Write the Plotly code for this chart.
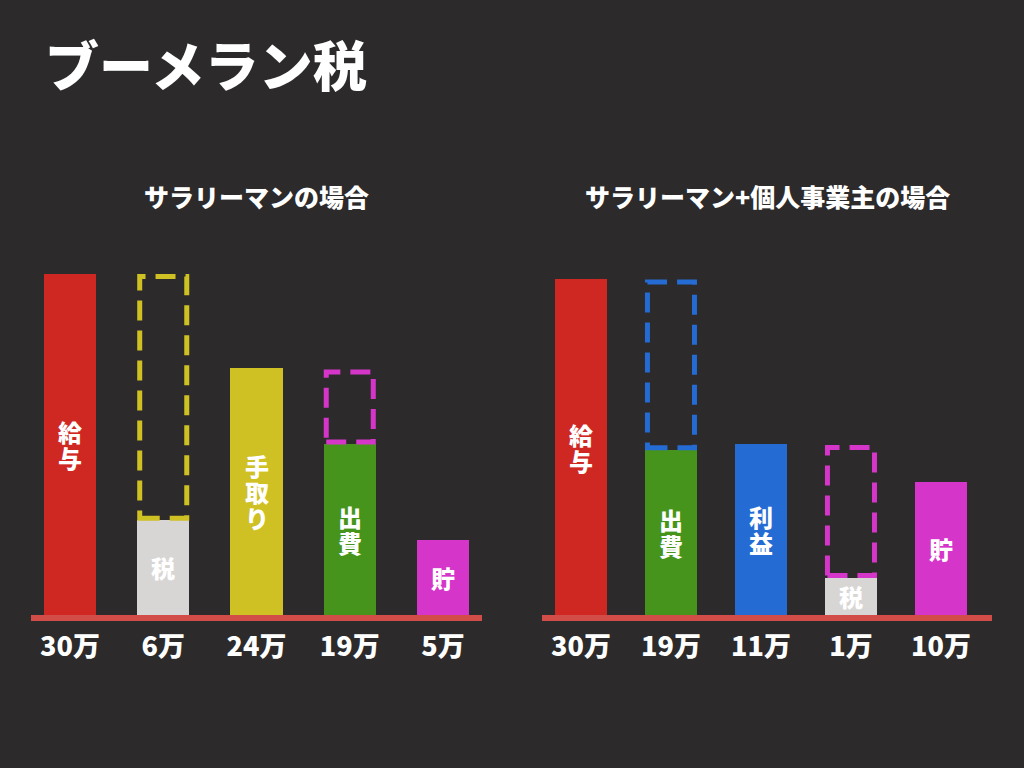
import plotly.graph_objects as go

# ---- data (bar heights, in units where the left 給与 bar = 30) ----
left_title = "サラリーマンの場合"
left_cats = ["給与", "税", "手取り", "出費", "貯"]
left_heights = [30.0, 8.3, 21.7, 15.0, 6.6]
left_amounts = ["30万", "6万", "24万", "19万", "5万"]

right_title = "サラリーマン+個人事業主の場合"
right_cats = ["給与", "出費", "利益", "税", "貯"]
right_heights = [29.5, 14.5, 15.0, 3.25, 11.7]
right_amounts = ["30万", "19万", "11万", "1万", "10万"]

main_title = "ブーメラン税"

# dashed outlines: (index of bar it sits on, index of bar whose height it shows)
left_dashed = [(1, 2), (3, 4)]
right_dashed = [(1, 2), (3, 4)]

# ---- styles ----
BG = "#2c2a2b"
RED = "#cf2823"
GRAY = "#d8d6d5"
YELLOW = "#cfc023"
GREEN = "#46941c"
MAGENTA = "#d536c9"
BLUE = "#246bd3"
BASE = "#d24c48"
FONT = "Noto Sans CJK JP"
W = 900

left_colors = [RED, GRAY, YELLOW, GREEN, MAGENTA]
right_colors = [RED, GREEN, BLUE, GRAY, MAGENTA]
left_dash_colors = [YELLOW, MAGENTA]
right_dash_colors = [BLUE, MAGENTA]

BAR_W_L = 0.558
BAR_W_R = 0.578
CHAR_SIZE = 24
CHAR_PITCH = 26

fig = go.Figure()
fig.add_trace(go.Bar(
    x=left_cats, y=left_heights, marker=dict(color=left_colors, line=dict(width=0)),
    width=BAR_W_L, xaxis="x", yaxis="y", hoverinfo="skip", showlegend=False))
fig.add_trace(go.Bar(
    x=right_cats, y=right_heights, marker=dict(color=right_colors, line=dict(width=0)),
    width=BAR_W_R, xaxis="x2", yaxis="y2", hoverinfo="skip", showlegend=False))

annotations = []
# vertical labels inside bars, one character per line, tight spacing
for cats, heights, xr, yr in [(left_cats, left_heights, "x", "y"),
                              (right_cats, right_heights, "x2", "y2")]:
    for cat, h in zip(cats, heights):
        n = len(cat)
        for k, ch in enumerate(cat):
            annotations.append(dict(
                text=ch, xref=xr, yref=yr, x=cat, y=h / 2,
                xanchor="center", yanchor="middle", showarrow=False,
                yshift=((n - 1) / 2 - k) * CHAR_PITCH,
                font=dict(family=FONT, size=CHAR_SIZE, color="white", weight=W)))

LW = 5
shapes = []
for (dash_list, heights, colors, xr, yr, bw, pxu) in [
        (left_dashed, left_heights, left_dash_colors, "x", "y", BAR_W_L, 93.25),
        (right_dashed, right_heights, right_dash_colors, "x2", "y2", BAR_W_R, 90.0)]:
    for (on, show), col in zip(dash_list, colors):
        inset_x = (LW / 2) / pxu
        inset_y = (LW / 2) / 11.37
        base = heights[on]
        top = base + heights[show]
        shapes.append(dict(
            type="rect", xref=xr, yref=yr,
            x0=on - bw / 2 + inset_x, x1=on + bw / 2 - inset_x,
            y0=base + inset_y, y1=top - inset_y,
            line=dict(color=col, width=LW, dash="20px,10px"),
            fillcolor="rgba(0,0,0,0)", layer="above"))

y_dom = [1 - 615 / 768, 1 - 615 / 768 + 32 * 11.37 / 768]

axis_common = dict(
    type="category", showgrid=False, zeroline=False, showline=True,
    linecolor=BASE, linewidth=6, ticks="", fixedrange=True,
    tickfont=dict(family=FONT, size=27, color="white", weight=W),
    ticklabelstandoff=3)

annotations += [
    dict(text=main_title, xref="paper", yref="paper", x=43 / 1024, y=1 - 63 / 768,
         xanchor="left", yanchor="middle", showarrow=False,
         font=dict(family=FONT, size=54, color="white", weight=W)),
    dict(text=left_title, xref="x domain", yref="paper", x=0.5, y=1 - 196 / 768,
         xanchor="center", yanchor="middle", showarrow=False,
         font=dict(family=FONT, size=25, color="white", weight=W)),
    dict(text=right_title, xref="x2 domain", yref="paper", x=0.5, y=1 - 196 / 768,
         xanchor="center", yanchor="middle", showarrow=False,
         font=dict(family=FONT, size=25, color="white", weight=W)),
]

fig.update_layout(
    width=1024, height=768,
    paper_bgcolor=BG, plot_bgcolor=BG,
    margin=dict(l=0, r=0, t=0, b=0),
    bargap=0,
    xaxis=dict(axis_common, domain=[31 / 1024, 482 / 1024], range=[-0.418, 4.418],
               tickvals=left_cats, ticktext=left_amounts, anchor="y"),
    yaxis=dict(domain=y_dom, range=[0, 32], visible=False, fixedrange=True),
    xaxis2=dict(axis_common, domain=[542 / 1024, 992 / 1024], range=[-0.433, 4.567],
                tickvals=right_cats, ticktext=right_amounts, anchor="y2"),
    yaxis2=dict(domain=y_dom, range=[0, 32], visible=False, fixedrange=True, anchor="x2"),
    shapes=shapes,
    annotations=annotations,
)

fig.write_html("out.html", config={"displayModeBar": False},
               post_script="document.body.style.margin='0';document.body.style.overflow='hidden';")
